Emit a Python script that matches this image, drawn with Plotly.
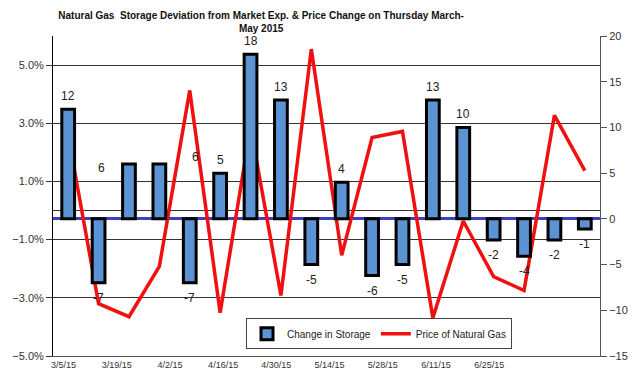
import plotly.graph_objects as go

# ---- data ----
weeks = ["3/5/15", "3/12/15", "3/19/15", "3/26/15", "4/2/15", "4/9/15", "4/16/15",
         "4/23/15", "4/30/15", "5/7/15", "5/14/15", "5/21/15", "5/28/15", "6/4/15",
         "6/11/15", "6/18/15", "6/25/15", "7/2/15"]
storage_change = [12, -7, 6, 6, -7, 5, 18, 13, -5, 4, -6.2, -5, 13, 10, -2.3, -4.1, -2.3, -1.1]
storage_labels = ["12", "-7", "", "", "-7", "5", "18", "13", "-5", "4", "-6", "-5",
                  "13", "10", "-2", "-4", "-2", "-1"]
price_change = [0.0258, -0.0320, -0.0365, -0.0192, 0.0413, -0.0351, 0.0285, -0.0292,
                0.0555, -0.0154, 0.0251, 0.0272, -0.0369, -0.0036, -0.0227, -0.0275,
                0.0327, 0.0137]
stray_labels = ["6", "6"]
date_ticks = ["2015-03-05", "2015-03-19", "2015-04-02", "2015-04-16", "2015-04-30",
              "2015-05-14", "2015-05-28", "2015-06-11", "2015-06-25"]
date_tick_text = ["3/5/15", "3/19/15", "4/2/15", "4/16/15", "4/30/15", "5/14/15",
                  "5/28/15", "6/11/15", "6/25/15"]

fig = go.Figure()

# dummy trace to anchor the visible date axis
fig.add_trace(go.Scatter(x=date_ticks, y=[None] * len(date_ticks), xaxis="x", yaxis="y",
                         showlegend=False, hoverinfo="skip"))

fig.add_trace(go.Bar(
    x=weeks, y=storage_change, xaxis="x2", yaxis="y2", name="Change in Storage",
    marker=dict(color="#5B93D3", line=dict(color="#000000", width=3)),
    width=0.42,
))
fig.add_trace(go.Scatter(
    x=weeks, y=price_change, xaxis="x2", yaxis="y", name="Price of Natural Gas",
    mode="lines", line=dict(color="#F01010", width=3.5),
))

lab_font = dict(family="Liberation Sans, Arial", size=12, color="#222")
annotations = []
for i, (v, t) in enumerate(zip(storage_change, storage_labels)):
    if not t:
        continue
    annotations.append(dict(
        x=i, y=v, xref="x2", yref="y2", text=t, showarrow=False,
        yshift=13 if v > 0 else -15, font=lab_font,
    ))
# stray labels (displaced in the original)
annotations.append(dict(x=1.1, y=5.6, xref="x2", yref="y2", text=stray_labels[0],
                        showarrow=False, font=lab_font))
annotations.append(dict(x=4.2, y=6.8, xref="x2", yref="y2", text=stray_labels[1],
                        showarrow=False, font=lab_font))

fig.update_layout(
    width=640, height=387,
    margin=dict(l=50, r=35, t=36, b=31),
    paper_bgcolor="white", plot_bgcolor="white",
    title=dict(
        text="<b>Natural Gas  Storage Deviation from Market Exp. & Price Change on Thursday March-<br>May 2015</b>",
        x=0.408, xanchor="center", y=0.95, yanchor="top",
        font=dict(family="Liberation Sans, Arial", size=10, color="#111"),
    ),
    xaxis=dict(
        type="date", range=["2015-03-02 06:00", "2015-07-24 03:00"],
        tickvals=date_ticks, ticktext=date_tick_text, ticks="",
        showgrid=False, zeroline=False, showline=True, linecolor="#555", linewidth=1,
        tickfont=dict(family="Liberation Sans, Arial", size=9, color="#333"),
        anchor="y",
    ),
    xaxis2=dict(
        type="category", overlaying="x", range=[-0.5, 17.5], visible=False, anchor="y",
    ),
    yaxis=dict(
        range=[-0.05, 0.06], tick0=-0.05, dtick=0.02, tickformat=".1%",
        showgrid=True, gridcolor="#333", gridwidth=1,
        zeroline=True, zerolinecolor="#333", zerolinewidth=1,
        showline=True, linecolor="#000", linewidth=1, ticks="outside", ticklen=6, tickcolor="#333",
        tickfont=dict(family="Liberation Sans, Arial", size=11, color="#333"),
    ),
    yaxis2=dict(
        range=[-15, 20], dtick=5, overlaying="y", side="right", anchor="x",
        showgrid=False, zeroline=True, zerolinecolor="#3A3FC4", zerolinewidth=2.5,
        showline=True, linecolor="#555", linewidth=1, ticks="outside", ticklen=6, tickcolor="#555",
        tickfont=dict(family="Liberation Sans, Arial", size=11, color="#333"),
    ),
    legend=dict(
        orientation="h", x=0.596, xanchor="center", y=0.118, yanchor="top",
        bgcolor="white", bordercolor="#444", borderwidth=1,
        font=dict(family="Liberation Sans, Arial", size=10, color="#222"),
    ),
    bargap=0.5,
    annotations=annotations,
    showlegend=True,
)

fig.write_html("out.html", config={"displayModeBar": False},
               post_script="document.body.style.margin='0';")
